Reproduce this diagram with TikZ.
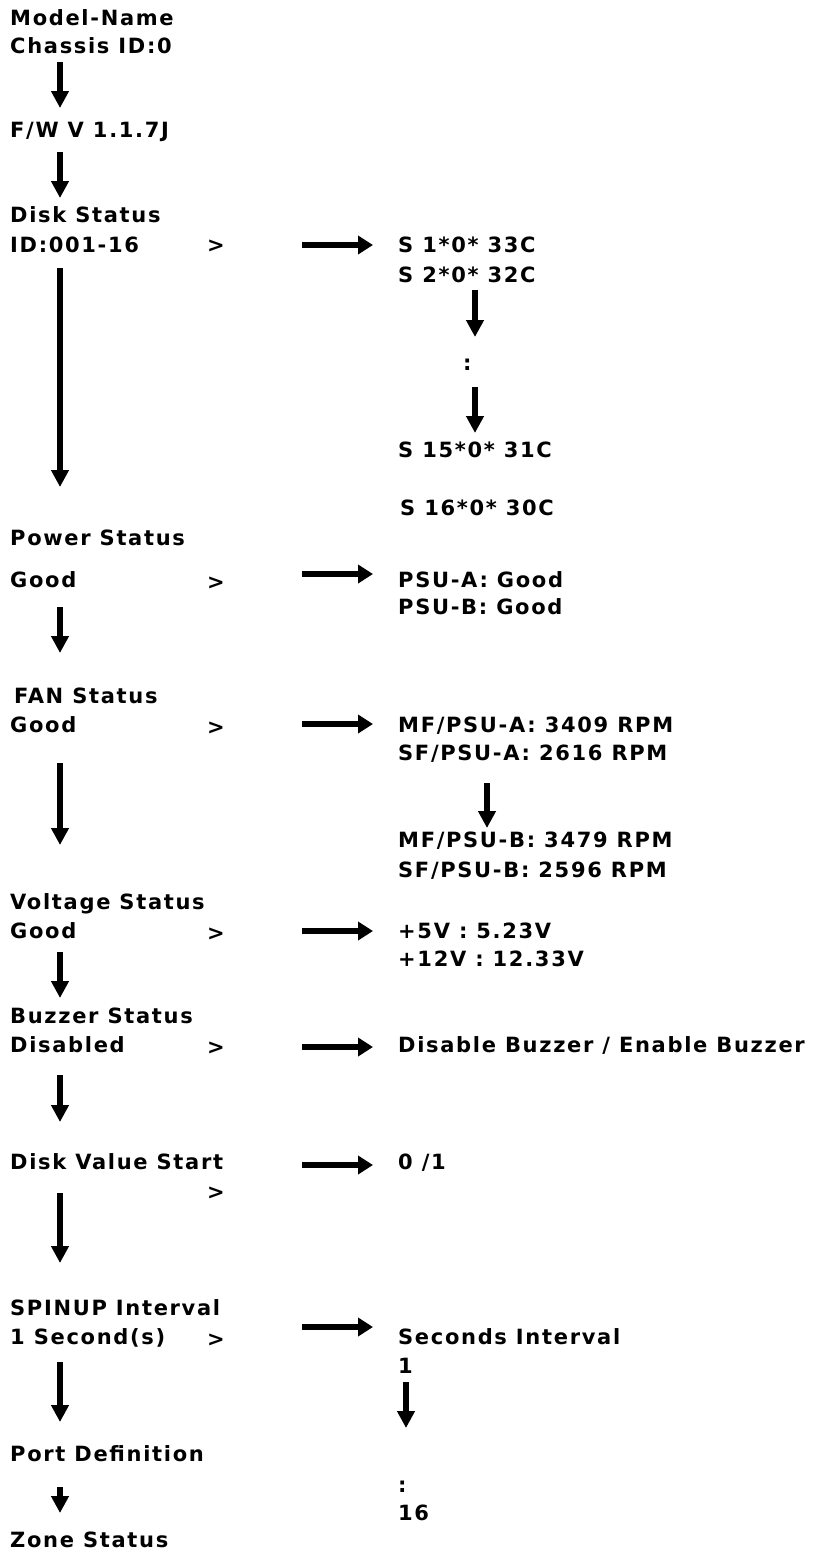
\documentclass[tikz,border=0pt]{standalone}
\usepackage{fontspec}
\setmainfont{DejaVu Sans}
\usetikzlibrary{arrows.meta}
\begin{document}
\begin{tikzpicture}[x=1pt,y=-1pt,
  lbl/.style={anchor=base west, inner sep=0pt, font=\fontsize{21}{25}\selectfont\bfseries\addfontfeatures{LetterSpace=8}},
  varr/.style={line width=5.5pt, -{Triangle[length=17pt,width=17pt]}},
  harr/.style={line width=6pt, -{Triangle[length=15pt,width=18pt]}}]
\useasboundingbox[fill=white] (0,0) rectangle (820,1551);
% left column
\node[lbl] (model) at (10,25) {Model-Name};
\node[lbl] (chassis) at (10,53) {Chassis ID:0};
\node[lbl] (fw) at (10,137) {F/W V 1.1.7J};
\node[lbl] (disk) at (10,222) {Disk Status};
\node[lbl] (diskid) at (10,252) {ID:001-16};
\node[lbl] (gt1) at (207,252) {>};
\node[lbl] (power) at (10,545) {Power Status};
\node[lbl] (pgood) at (10,587) {Good};
\node[lbl] (gt2) at (207,589) {>};
\node[lbl] (fan) at (14,703) {FAN Status};
\node[lbl] (fgood) at (10,732) {Good};
\node[lbl] (gt3) at (207,734) {>};
\node[lbl] (volt) at (10,909) {Voltage Status};
\node[lbl] (vgood) at (10,938) {Good};
\node[lbl] (gt4) at (207,940) {>};
\node[lbl] (buzz) at (10,1023) {Buzzer Status};
\node[lbl] (bdis) at (10,1052) {Disabled};
\node[lbl] (gt5) at (207,1054) {>};
\node[lbl] (dvs) at (10,1169) {Disk Value Start};
\node[lbl] (gt6) at (207,1199) {>};
\node[lbl] (spin) at (10,1315) {SPINUP Interval};
\node[lbl] (spin1) at (10,1344) {1 Second(s)};
\node[lbl] (gt7) at (207,1346) {>};
\node[lbl] (port) at (10,1461) {Port Definition};
\node[lbl] (zone) at (10,1547) {Zone Status};
% right column
\node[lbl] (s1) at (398,252) {S 1*0* 33C};
\node[lbl] (s2) at (398,282) {S 2*0* 32C};
\node[lbl] (sdots) at (463,370) {:};
\node[lbl] (s15) at (398,457) {S 15*0* 31C};
\node[lbl] (s16) at (400,515) {S 16*0* 30C};
\node[lbl] (psua) at (398,587) {PSU-A: Good};
\node[lbl] (psub) at (398,614) {PSU-B: Good};
\node[lbl] (mfa) at (398,732) {MF/PSU-A: 3409 RPM};
\node[lbl] (sfa) at (398,760) {SF/PSU-A: 2616 RPM};
\node[lbl] (mfb) at (398,847) {MF/PSU-B: 3479 RPM};
\node[lbl] (sfb) at (398,877) {SF/PSU-B: 2596 RPM};
\node[lbl] (v5) at (398,938) {+5V : 5.23V};
\node[lbl] (v12) at (398,966) {+12V : 12.33V};
\node[lbl] (bopt) at (398,1052) {Disable Buzzer / Enable Buzzer};
\node[lbl] (dv01) at (398,1169) {0 /1};
\node[lbl] (secint) at (398,1344) {Seconds Interval};
\node[lbl] (sec1) at (398,1373) {1};
\node[lbl] (secdots) at (398,1492) {:};
\node[lbl] (sec16) at (398,1520) {16};
% arrow end points
\coordinate (l1s) at (60,62);   \coordinate (l1e) at (60,108);
\coordinate (l2s) at (60,152);  \coordinate (l2e) at (60,198);
\coordinate (l3s) at (60,268);  \coordinate (l3e) at (60,487);
\coordinate (l4s) at (60,607);  \coordinate (l4e) at (60,653);
\coordinate (l5s) at (60,763);  \coordinate (l5e) at (60,845);
\coordinate (l6s) at (60,952);  \coordinate (l6e) at (60,998);
\coordinate (l7s) at (60,1075); \coordinate (l7e) at (60,1122);
\coordinate (l8s) at (60,1193); \coordinate (l8e) at (60,1263);
\coordinate (l9s) at (60,1362); \coordinate (l9e) at (60,1422);
\coordinate (l10s) at (60,1487); \coordinate (l10e) at (60,1513);
\coordinate (r1s) at (475,290); \coordinate (r1e) at (475,337);
\coordinate (r2s) at (475,387); \coordinate (r2e) at (475,433);
\coordinate (r3s) at (487,783); \coordinate (r3e) at (487,828);
\coordinate (r4s) at (406,1382); \coordinate (r4e) at (406,1428);
\coordinate (h1s) at (302,245);  \coordinate (h1e) at (373,245);
\coordinate (h2s) at (302,574);  \coordinate (h2e) at (373,574);
\coordinate (h3s) at (302,724);  \coordinate (h3e) at (373,724);
\coordinate (h4s) at (302,931);  \coordinate (h4e) at (373,931);
\coordinate (h5s) at (302,1047); \coordinate (h5e) at (373,1047);
\coordinate (h6s) at (302,1165); \coordinate (h6e) at (373,1165);
\coordinate (h7s) at (302,1327); \coordinate (h7e) at (373,1327);
\foreach \a in {l1,l2,l3,l4,l5,l6,l7,l8,l9,l10,r1,r2,r3,r4}
  \draw[varr] (\a s) -- (\a e);
\foreach \a in {h1,h2,h3,h4,h5,h6,h7}
  \draw[harr] (\a s) -- (\a e);
\end{tikzpicture}
\end{document}
